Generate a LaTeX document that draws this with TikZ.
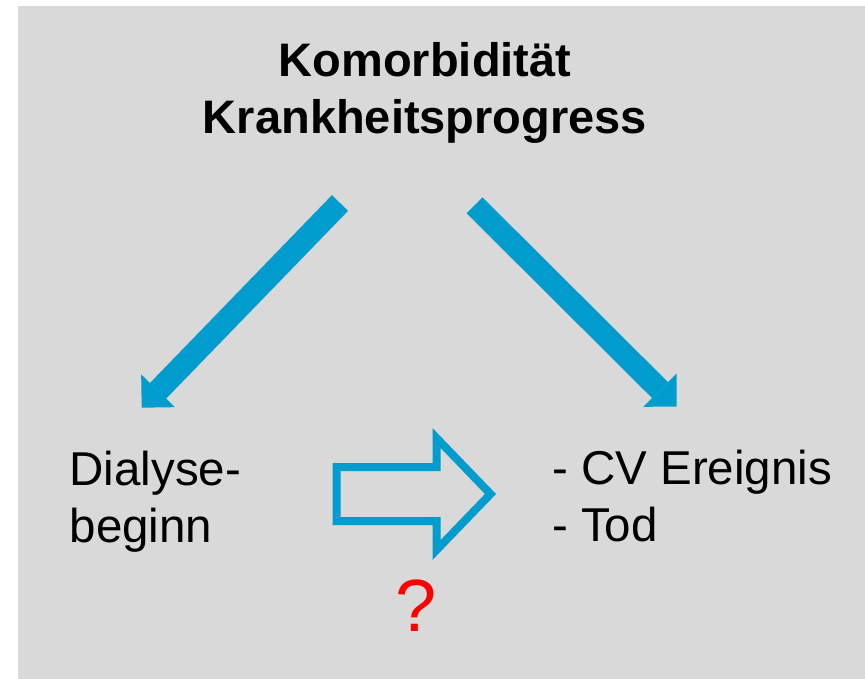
\documentclass[tikz,border=0pt]{standalone}
\usepackage{fontspec}
\setmainfont{Liberation Sans}
\usetikzlibrary{arrows.meta}
\definecolor{bggray}{RGB}{217,217,217}
\definecolor{kblue}{RGB}{0,156,206}

\begin{document}
\begin{tikzpicture}[x=1pt,y=-1pt,
  fat/.style={draw=kblue,line width=22.5pt,-{Triangle[width=47pt,length=23.5pt,line width=0pt]}},
  txt/.style={inner sep=0pt,align=left,font=\fontsize{47.5}{57}\selectfont}]
\useasboundingbox (0,0) rectangle (865,679);
\fill [bggray] (18,6) rectangle (865,679);
\node [inner sep=0pt,align=center,anchor=north,font=\bfseries\fontsize{47}{56.7}\selectfont] (top) at (425,42.5) {Komorbidität\\Krankheitsprogress};
\node [txt,anchor=north west] (dial) at (69.5,451) {Dialyse-\\beginn};
\node [txt,anchor=north west] (cv) at (552,449.5) {- CV Ereignis\\- Tod};
\node [text=red,inner sep=0pt,anchor=base,font=\fontsize{74}{80}\selectfont] (q) at (416.5,631) {?};
\coordinate (la) at (340,203);
\coordinate (lb) at (141.7,407.7);
\coordinate (ra) at (474.5,205.3);
\coordinate (rb) at (676.7,406.7);
\draw [fat] (la) -- (lb);
\draw [fat] (ra) -- (rb);
% hohler Pfeil
\draw [kblue,line width=8pt] (336.5,467) -- (436.5,467) -- (436.5,438) -- (490.5,494)
  -- (436.5,550) -- (436.5,521) -- (336.5,521) -- cycle;
\end{tikzpicture}
\end{document}
